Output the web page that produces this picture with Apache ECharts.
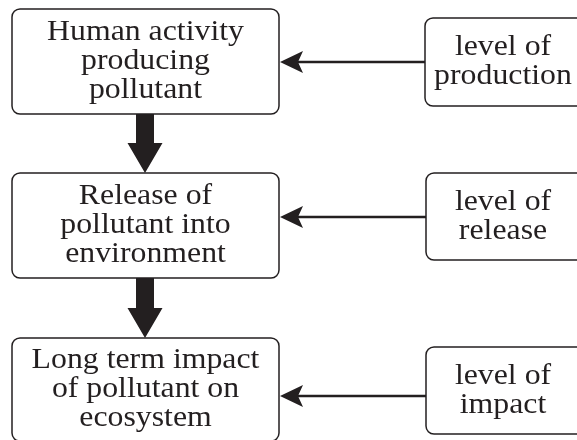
<!DOCTYPE html>
<html>
<head>
<meta charset="utf-8">
<script src="https://cdn.jsdelivr.net/npm/echarts@6/dist/echarts.min.js"></script>
<style>
  html, body { margin: 0; padding: 0; background: #fff; }
  #chart { width: 577px; height: 440px; }
</style>
</head>
<body>
<div id="chart"></div>
<script>
  var leftLabels = [
    'Human activity\nproducing\npollutant',
    'Release of\npollutant into\nenvironment',
    'Long term impact\nof pollutant on\necosystem'
  ];
  var rightLabels = [
    'level of\nproduction',
    'level of\nrelease',
    'level of\nimpact'
  ];

  // layout in pixel units of the hidden axes
  var leftBoxes = [[12, 9, 279, 114], [12, 173, 279, 278], [12, 338, 279, 441]];
  var rightBoxes = [[425, 18, 592, 106], [426, 173, 592, 260], [426, 347, 592, 434]];
  var rightTextX = 503;
  var feedY = [62, 217, 396];
  var downArrows = [[145, 114, 173], [145, 278, 338]];

  var ink = '#231f20';
  var font = '30px "Liberation Serif", "Times New Roman", serif';

  function boxData(boxes, labels, textX) {
    var out = [];
    for (var i = 0; i < boxes.length; i += 1) {
      var b = boxes[i];
      out.push({ value: [b[0], b[1], b[2], b[3], textX == null ? (b[0] + b[2]) / 2 : textX], label: labels[i] });
    }
    return out;
  }

  var allBoxes = boxData(leftBoxes, leftLabels, null).concat(boxData(rightBoxes, rightLabels, rightTextX));

  function renderBox(params, api) {
    var item = allBoxes[params.dataIndex];
    var p0 = api.coord([api.value(0), api.value(1)]);
    var p1 = api.coord([api.value(2), api.value(3)]);
    var tx = api.coord([api.value(4), 0])[0];
    return {
      type: 'group',
      children: [
        {
          type: 'rect',
          shape: { x: p0[0], y: p0[1], width: p1[0] - p0[0], height: p1[1] - p0[1], r: 8 },
          style: { fill: '#fff', stroke: ink, lineWidth: 1.5 }
        },
        {
          type: 'text',
          x: tx,
          y: (p0[1] + p1[1]) / 2,
          scaleX: 1.06,
          style: {
            text: item.label,
            x: 0,
            y: 0,
            align: 'center',
            verticalAlign: 'middle',
            font: font,
            lineHeight: 29,
            fill: ink
          }
        }
      ]
    };
  }

  function renderDown(params, api) {
    var cx = api.value(0);
    var top = api.value(1);
    var tip = api.value(2);
    var base = tip - 30;
    var pts = [
      [cx - 9, top], [cx + 9, top], [cx + 9, base], [cx + 17.5, base],
      [cx, tip], [cx - 17.5, base], [cx - 9, base]
    ].map(function (p) { return api.coord(p); });
    return { type: 'polygon', shape: { points: pts }, style: { fill: ink } };
  }

  function renderFeed(params, api) {
    var y = api.value(0);
    var start = rightBoxes[params.dataIndex][0];
    var a = api.coord([start, y]);
    var b = api.coord([298, y]);
    var head = [[280, y], [303, y - 11], [298, y], [303, y + 11]].map(function (p) { return api.coord(p); });
    return {
      type: 'group',
      children: [
        { type: 'line', shape: { x1: a[0], y1: a[1], x2: b[0], y2: b[1] }, style: { stroke: ink, lineWidth: 2.5 } },
        { type: 'polygon', shape: { points: head }, style: { fill: ink } }
      ]
    };
  }

  var chart = echarts.init(document.getElementById('chart'));
  chart.setOption({
    animation: false,
    grid: { left: 0, right: 0, top: 0, bottom: 0 },
    xAxis: { type: 'value', min: 0, max: 577, show: false },
    yAxis: { type: 'value', min: 0, max: 440, inverse: true, show: false },
    series: [
      {
        type: 'custom',
        clip: true,
        renderItem: renderFeed,
        data: feedY.map(function (y) { return [y]; })
      },
      {
        type: 'custom',
        clip: true,
        renderItem: renderDown,
        data: downArrows
      },
      {
        type: 'custom',
        clip: true,
        renderItem: renderBox,
        data: allBoxes.map(function (d) { return d.value; })
      }
    ]
  });
</script>
</body>
</html>
